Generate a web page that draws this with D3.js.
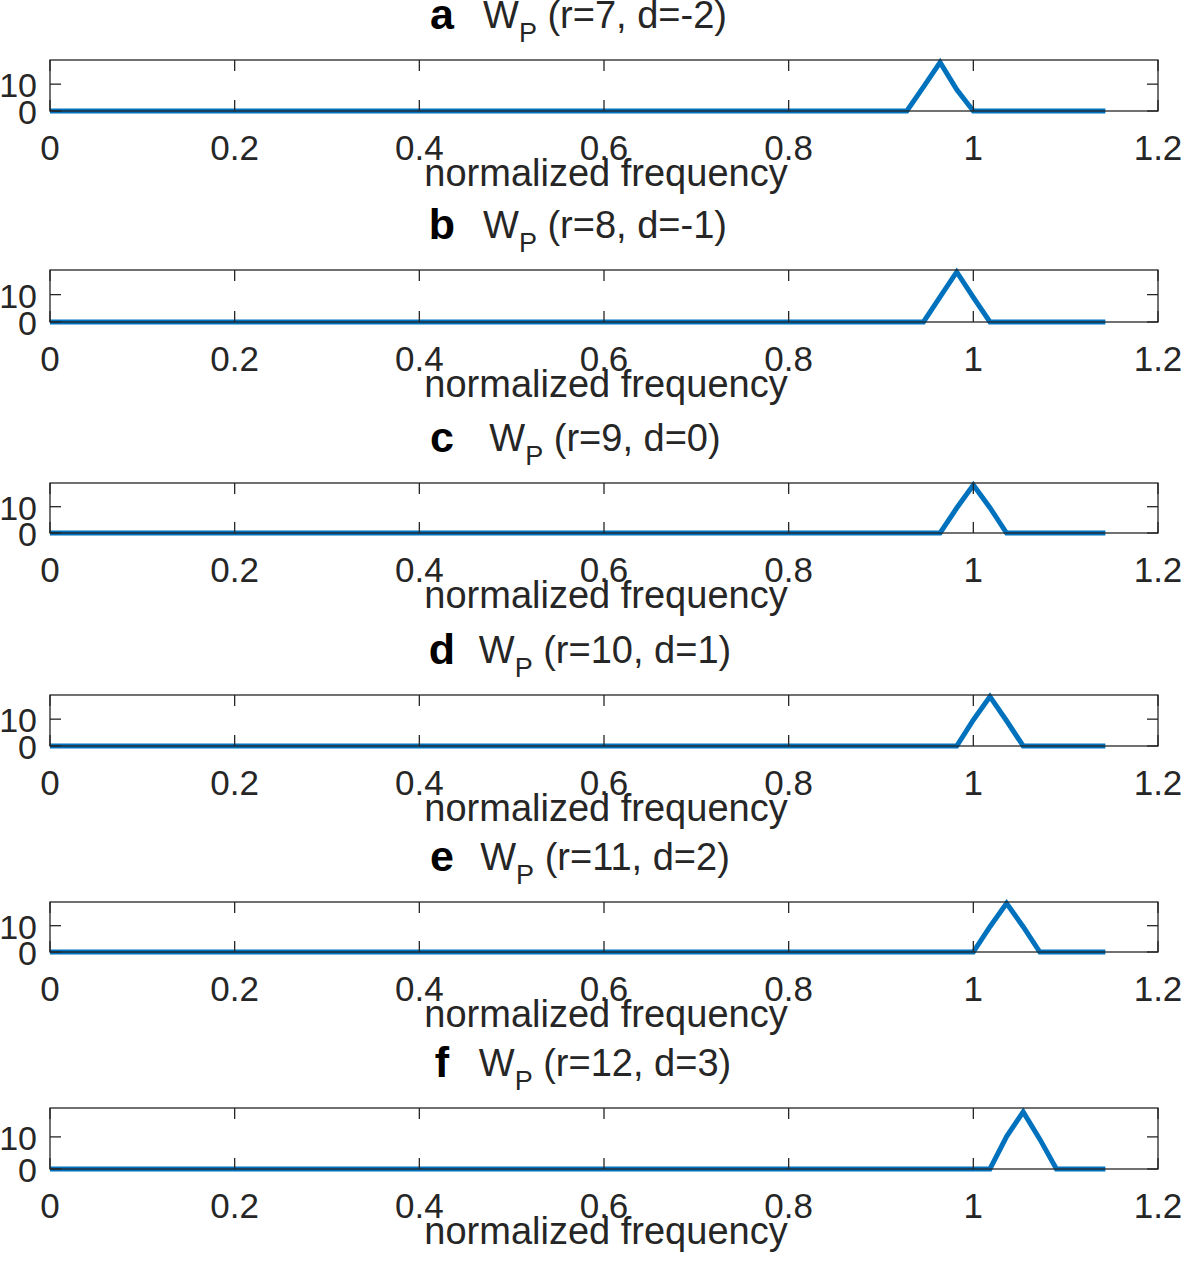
<!DOCTYPE html>
<html>
<head>
<meta charset="utf-8">
<script src="https://d3js.org/d3.v7.min.js"></script>
<style>
body { margin: 0; background: #fff; }
text { font-family: "Liberation Sans", Arial, Helvetica, sans-serif; fill: #262626; }
</style>
</head>
<body>
<svg width="1181" height="1261"></svg>
<script>
// panel labels and parameters
var letters = ["a", "b", "c", "d", "e", "f"];
var rValues = [7, 8, 9, 10, 11, 12];
var dValues = [-2, -1, 0, 1, 2, 3];

var xTicks = [0, 0.2, 0.4, 0.6, 0.8, 1, 1.2];
var xTickLabels = ["0", "0.2", "0.4", "0.6", "0.8", "1", "1.2"];
var yTicks = [0, 10];

// W_P curves
var freqA = [0, 0.928, 0.946, 0.964, 0.982, 1.000, 1.143];
var wpA   = [0, 0, 9.0, 18.1, 8.0, 0, 0];
var freqB = [0, 0.946, 0.964, 0.982, 1.000, 1.018, 1.143];
var wpB   = [0, 0, 9.2, 18.3, 9.0, 0, 0];
var freqC = [0, 0.964, 0.982, 1.000, 1.018, 1.036, 1.143];
var wpC   = [0, 0, 9.5, 18.2, 9.6, 0, 0];
var freqD = [0, 0.982, 1.000, 1.018, 1.036, 1.054, 1.143];
var wpD   = [0, 0, 9.7, 18.4, 9.4, 0, 0];
var freqE = [0, 1.000, 1.018, 1.036, 1.054, 1.072, 1.143];
var wpE   = [0, 0, 9.6, 18.5, 9.6, 0, 0];
var freqF = [0, 1.018, 1.036, 1.054, 1.072, 1.090, 1.143];
var wpF   = [0, 0, 10.1, 17.8, 9.3, 0, 0];

var freqs = [freqA, freqB, freqC, freqD, freqE, freqF];
var wps = [wpA, wpB, wpC, wpD, wpE, wpF];

// layout of each axes box
var boxTop = [60, 270, 483, 695, 902, 1108];
var boxBottom = [111, 322, 533, 746, 952, 1169];
var left = 50, right = 1158;
var axisColor = "#262626";

var svg = d3.select("svg");

var x = d3.scaleLinear().domain([0, 1.2]).range([left, right]);

function drawPanel(i) {
    var top = boxTop[i], bottom = boxBottom[i];
    var y = d3.scaleLinear().domain([0, 19]).range([bottom, top]);
    var g = svg.append("g").attr("class", "panel");

    var data = freqs[i].map(function(f, k) { return {f: f, v: wps[i][k]}; });
    var line = d3.line()
        .x(function(d) { return x(d.f); })
        .y(function(d) { return y(d.v); });

    g.append("path")
        .datum(data)
        .attr("d", line)
        .attr("fill", "none")
        .attr("stroke", "#0072BD")
        .attr("stroke-width", 5);

    // box
    g.append("rect")
        .attr("x", left).attr("y", top)
        .attr("width", right - left).attr("height", bottom - top)
        .attr("fill", "none")
        .attr("stroke", axisColor)
        .attr("stroke-width", 1.3);

    // inward ticks on all four sides
    var tickLen = 11;
    xTicks.forEach(function(t) {
        g.append("line")
            .attr("x1", x(t)).attr("x2", x(t))
            .attr("y1", bottom).attr("y2", bottom - tickLen)
            .attr("stroke", axisColor).attr("stroke-width", 1.3);
        g.append("line")
            .attr("x1", x(t)).attr("x2", x(t))
            .attr("y1", top).attr("y2", top + tickLen)
            .attr("stroke", axisColor).attr("stroke-width", 1.3);
    });
    yTicks.forEach(function(t) {
        g.append("line")
            .attr("x1", left).attr("x2", left + tickLen)
            .attr("y1", y(t)).attr("y2", y(t))
            .attr("stroke", axisColor).attr("stroke-width", 1.3);
        g.append("line")
            .attr("x1", right).attr("x2", right - tickLen)
            .attr("y1", y(t)).attr("y2", y(t))
            .attr("stroke", axisColor).attr("stroke-width", 1.3);
    });

    // tick labels
    g.selectAll(".xlab")
        .data(xTicks)
        .enter().append("text")
        .attr("x", function(d) { return x(d); })
        .attr("y", bottom + 49)
        .attr("text-anchor", "middle")
        .attr("font-size", 35)
        .text(function(d, k) { return xTickLabels[k]; });

    g.selectAll(".ylab")
        .data(yTicks)
        .enter().append("text")
        .attr("x", 37)
        .attr("y", function(d) { return y(d) + 13; })
        .attr("text-anchor", "end")
        .attr("font-size", 34)
        .text(function(d) { return d; });

    g.append("text")
        .attr("x", (left + right) / 2 + 2)
        .attr("y", bottom + 75)
        .attr("text-anchor", "middle")
        .attr("font-size", 38)
        .text("normalized frequency");

    // title
    var title = g.append("text")
        .attr("x", (left + right) / 2 + 1)
        .attr("y", top - 32)
        .attr("text-anchor", "middle")
        .attr("font-size", 38);
    title.append("tspan").text("W");
    title.append("tspan").attr("dy", 14).attr("font-size", 27).text("P");
    title.append("tspan").attr("dy", -14).text(" (r=" + rValues[i] + ", d=" + dValues[i] + ")");

    g.append("text")
        .attr("x", 442)
        .attr("y", top - 31)
        .attr("text-anchor", "middle")
        .attr("font-size", 43)
        .attr("font-weight", "bold")
        .style("fill", "#000")
        .text(letters[i]);
}

letters.forEach(function(l, i) { drawPanel(i); });
</script>
</body>
</html>
